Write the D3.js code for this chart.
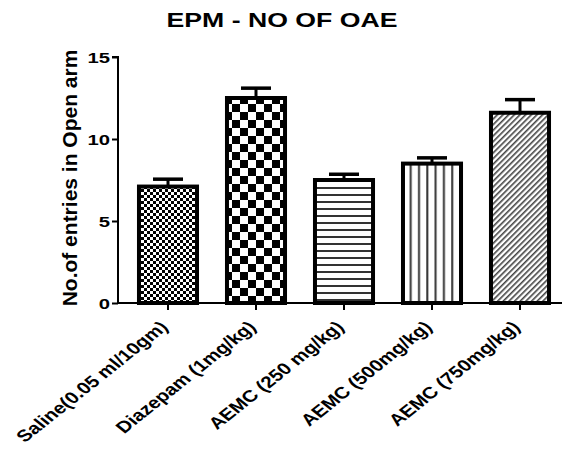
<!DOCTYPE html>
<html><head><meta charset="utf-8">
<script src="https://cdn.jsdelivr.net/npm/d3@7"></script>
<style>body{margin:0;background:#fff}svg{display:block}text{font-family:Arial,"Liberation Sans",sans-serif;font-weight:bold}</style>
</head><body>
<script>
const categories = ["Saline(0.05 ml/10gm)", "Diazepam (1mg/kg)", "AEMC (250 mg/kg)", "AEMC (500mg/kg)", "AEMC (750mg/kg)"];
const means = [7.1, 12.5, 7.5, 8.5, 11.6];
const errors = [0.45, 0.6, 0.35, 0.35, 0.8];
const yTicks = [0, 5, 10, 15];
const patterns = ["smallcheck", "bigcheck", "hlines", "vlines", "diag"];

const W = 564, H = 459;
const svg = d3.select("body").append("svg").attr("width", W).attr("height", H);
const defs = svg.append("defs");

// patterns
let p = defs.append("pattern").attr("id","smallcheck").attr("patternUnits","userSpaceOnUse").attr("width",6).attr("height",6);
p.append("rect").attr("width",6).attr("height",6).attr("fill","#fff");
p.append("rect").attr("width",3).attr("height",3).attr("fill","#000");
p.append("rect").attr("x",3).attr("y",3).attr("width",3).attr("height",3).attr("fill","#000");

p = defs.append("pattern").attr("id","bigcheck").attr("patternUnits","userSpaceOnUse").attr("width",16).attr("height",16);
p.append("rect").attr("width",16).attr("height",16).attr("fill","#fff");
p.append("rect").attr("width",8).attr("height",8).attr("fill","#000");
p.append("rect").attr("x",8).attr("y",8).attr("width",8).attr("height",8).attr("fill","#000");

p = defs.append("pattern").attr("id","hlines").attr("patternUnits","userSpaceOnUse").attr("width",7).attr("height",7);
p.append("rect").attr("width",7).attr("height",7).attr("fill","#fff");
p.append("rect").attr("y",5).attr("width",7).attr("height",2).attr("fill","#333");

p = defs.append("pattern").attr("id","vlines").attr("patternUnits","userSpaceOnUse").attr("width",8.3).attr("height",8);
p.append("rect").attr("width",8.3).attr("height",8).attr("fill","#fff");
p.append("rect").attr("x",3).attr("width",2).attr("height",8).attr("fill","#333");

p = defs.append("pattern").attr("id","diag").attr("patternUnits","userSpaceOnUse").attr("width",4).attr("height",4).attr("patternTransform","rotate(45)");
p.append("rect").attr("width",4).attr("height",4).attr("fill","#fff");
p.append("rect").attr("width",1.6).attr("height",4).attr("fill","#444");

const x = d3.scaleBand().domain(categories).range([124, 564]).paddingInner(0.295).paddingOuter(0.1475);
const y = d3.scaleLinear().domain([0, 15]).range([303, 57]);

// title
svg.append("text").attr("transform","translate(282,27) scale(1.3,1)").attr("text-anchor","middle").attr("font-size", 20.5).text("EPM - NO OF OAE");

// y label
svg.append("text").attr("transform","translate(77,178) rotate(-90)").attr("text-anchor","middle").attr("font-size",21).text("No.of entries in Open arm");

// bars
const g = svg.append("g");
categories.forEach((c, i) => {
  const x0 = x(c), bw = x.bandwidth(), cx = x0 + bw/2;
  g.append("line").attr("x1",cx).attr("x2",cx).attr("y1",y(means[i])).attr("y2",y(means[i]+errors[i])).attr("stroke","#000").attr("stroke-width",3);
  g.append("line").attr("x1",cx-15).attr("x2",cx+15).attr("y1",y(means[i]+errors[i])).attr("y2",y(means[i]+errors[i])).attr("stroke","#000").attr("stroke-width",3.5);
  g.append("rect").attr("x", x0+2).attr("y", y(means[i])).attr("width", bw-4).attr("height", y(0)-y(means[i]))
    .attr("fill", `url(#${patterns[i]})`).attr("stroke","#000").attr("stroke-width",4);
});

// y axis
const ya = svg.append("g").attr("transform","translate(118,0)").call(d3.axisLeft(y).tickValues(yTicks).tickSize(6).tickFormat(d3.format("d")));
ya.select(".domain").attr("stroke-width",2).attr("d", `M-6,${y(15)}H0V${y(0)}`);
ya.selectAll(".tick line").attr("stroke-width",2);
ya.selectAll(".tick text").attr("x", null).attr("dy", null).attr("text-anchor", null).text(null);
ya.selectAll(".tick").append("text").attr("transform","translate(-8,5.5) scale(1.35,1)").attr("text-anchor","end")
  .attr("font-size",15).attr("fill","#000").text(d => d);

// x axis
const xa = svg.append("g").attr("transform",`translate(0,${y(0)})`).call(d3.axisBottom(x).tickSize(7).tickFormat(""));
xa.select(".domain").attr("stroke-width",2).attr("d", `M118,0H562`);
xa.selectAll(".tick line").attr("stroke-width",2);

// x labels
categories.forEach((c) => {
  const cx = x(c) + x.bandwidth()/2;
  svg.append("text").attr("transform", `translate(${cx+1},${y(0)+25}) scale(1.25,1) rotate(-45)`).attr("text-anchor","end").attr("font-size",16.5).text(c);
});
</script>
</body></html>
